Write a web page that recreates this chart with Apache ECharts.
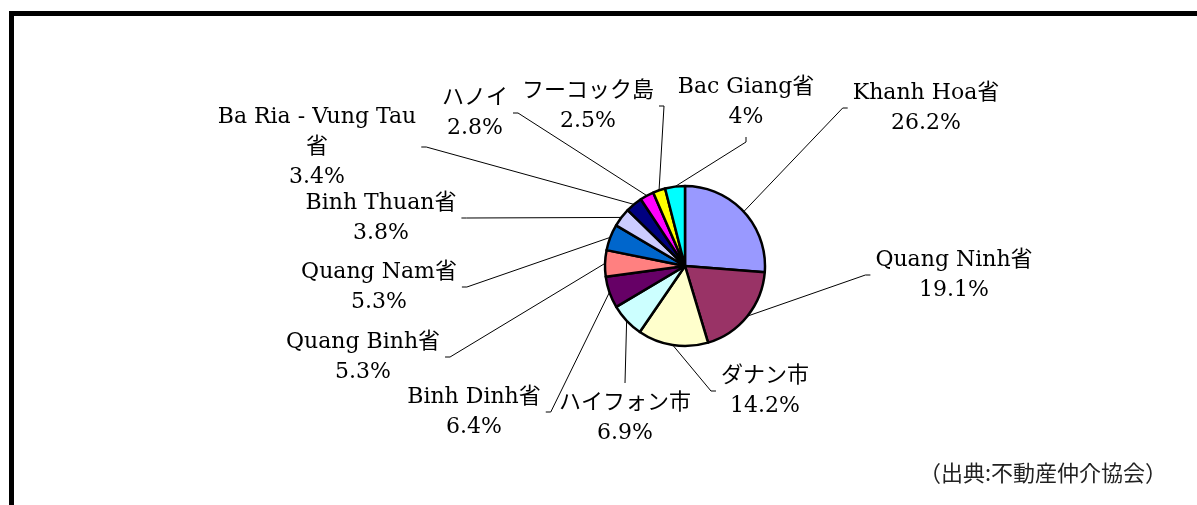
<!DOCTYPE html>
<html>
<head>
<meta charset="utf-8">
<script src="https://cdn.jsdelivr.net/npm/echarts@6/dist/echarts.min.js"></script>
<style>
  html, body {margin: 0; padding: 0; background: #fff;}
  #main {width: 1197px; height: 505px;}
</style>
</head>
<body>
<div id="main"></div>
<script>
// data (share in %)
var regions = ['Khanh Hoa省', 'Quang Ninh省', 'ダナン市', 'ハイフォン市', 'Binh Dinh省', 'Quang Binh省',
  'Quang Nam省', 'Binh Thuan省', 'Ba Ria - Vung Tau\n省', 'ハノイ', 'フーコック島', 'Bac Giang省'];
var shares = [26.2, 19.1, 14.2, 6.9, 6.4, 5.3, 5.3, 3.8, 3.4, 2.8, 2.5, 4];
var source = '（出典:不動産仲介協会）';

var colors = ['#9999FF', '#993366', '#FFFFCC', '#CCFFFF', '#660066', '#FF8080',
  '#0066CC', '#CCCCFF', '#000080', '#FF00FF', '#FFFF00', '#00FFFF'];

// where each label sits (centre of text block) and which side the leader line hooks on
var labelPos = [
  [926, 108, 'L'], [954, 275, 'L'], [765, 391, 'L'], [625, 418, 'T'],
  [474, 412, 'R'], [363, 357, 'R'], [379, 287, 'R'], [381, 218, 'R'],
  [317, 147, 'R'], [475, 113, 'R'], [588, 106, 'R'], [746, 102, 'B']
];

var chart = echarts.init(document.getElementById('main'), null, {renderer: 'canvas'});

var pieData = regions.map(function (name, i) {
  return {name: name, value: shares[i], itemStyle: {color: colors[i]}};
});

var option = {
  animation: false,
  title: {
    text: source,
    right: 30,
    bottom: 21,
    padding: 0,
    textStyle: {
      fontFamily: "'Noto Sans CJK JP'",
      fontWeight: 'normal',
      fontSize: 22,
      color: '#222'
    }
  },
  graphic: [
    {type: 'rect', shape: {x: 9, y: 11, width: 1188, height: 5}, style: {fill: '#000'}},
    {type: 'rect', shape: {x: 9, y: 11, width: 5, height: 494}, style: {fill: '#000'}}
  ],
  series: [{
    type: 'pie',
    center: [685, 266],
    radius: [0, 80],
    startAngle: 90,
    clockwise: true,
    avoidLabelOverlap: false,
    data: pieData,
    itemStyle: {borderColor: '#000', borderWidth: 2.5},
    label: {
      show: true,
      position: 'outside',
      formatter: '{b}\n{c}%',
      color: '#000',
      fontFamily: "'DejaVu Serif', 'Noto Sans CJK JP'",
      fontSize: 22,
      lineHeight: 30,
      align: 'center'
    },
    labelLine: {
      show: true,
      length: 10,
      length2: 10,
      lineStyle: {color: '#000', width: 1}
    },
    labelLayout: function (params) {
      var p = labelPos[params.dataIndex];
      var w = params.labelRect.width, h = params.labelRect.height;
      var cx = p[0], cy = p[1];
      var pts = params.labelLinePoints;
      var start = pts ? pts[0] : [685, 266];
      var gap = 5, hook = 5, end, elbow;
      if (p[2] === 'L') {
        end = [cx - w / 2 - gap, cy];
        elbow = [end[0] - hook, cy];
      } else if (p[2] === 'R') {
        end = [cx + w / 2 + gap, cy];
        elbow = [end[0] + hook, cy];
      } else if (p[2] === 'T') {
        end = [cx, cy - h / 2 - gap];
        elbow = end;
      } else {
        end = [cx, cy + h / 2 + gap];
        elbow = [cx, end[1] + hook];
      }
      return {
        x: cx,
        y: cy,
        align: 'center',
        verticalAlign: 'middle',
        labelLinePoints: [start, elbow, end]
      };
    }
  }]
};

chart.setOption(option);
</script>
</body>
</html>
